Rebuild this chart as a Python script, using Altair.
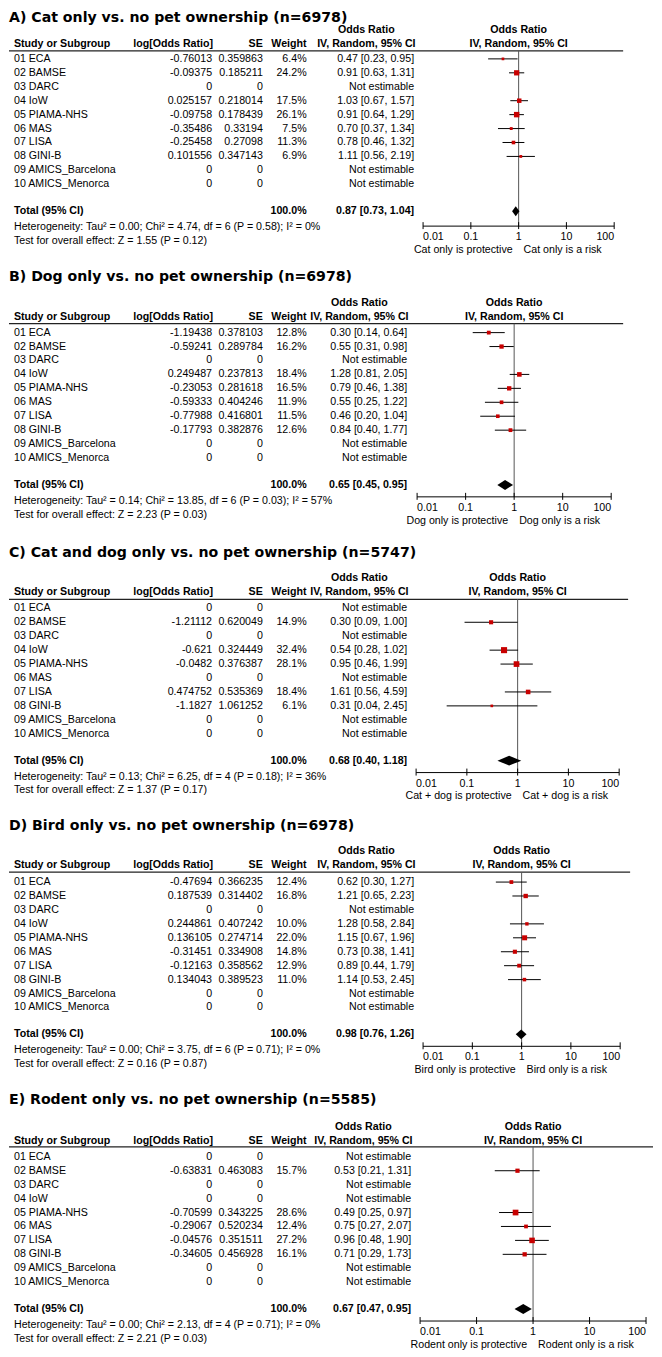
import altair as alt
import pandas as pd

SANS = "Liberation Sans"
TFONT = "DejaVu Sans"
FS = 10.7
RED = "#c80000"

studies = ["01 ECA", "02 BAMSE", "03 DARC", "04 IoW", "05 PIAMA-NHS", "06 MAS",
           "07 LISA", "08 GINI-B", "09 AMICS_Barcelona", "10 AMICS_Menorca"]
ticks = [0.01, 0.1, 1, 10, 100]
tick_labels = ["0.01", "0.1", "1", "10", "100"]

# ---------- A ----------
a_title = "A) Cat only vs. no pet ownership (n=6978)"
a_lor = [-0.76013, -0.09375, 0, 0.025157, -0.09758, -0.35486, -0.25458, 0.101556, 0, 0]
a_se = [0.359863, 0.185211, 0, 0.218014, 0.178439, 0.33194, 0.27098, 0.347143, 0, 0]
a_w = [6.4, 24.2, None, 17.5, 26.1, 7.5, 11.3, 6.9, None, None]
a_or = [0.47, 0.91, None, 1.03, 0.91, 0.70, 0.78, 1.11, None, None]
a_lo = [0.23, 0.63, None, 0.67, 0.64, 0.37, 0.46, 0.56, None, None]
a_hi = [0.95, 1.31, None, 1.57, 1.29, 1.34, 1.32, 2.19, None, None]
a_tot = [0.87, 0.73, 1.04]
a_het = [0.00, 4.74, 6, 0.58, 0]
a_z = [1.55, 0.12]
a_lab = ["Cat only is protective", "Cat only is a risk"]

# ---------- B ----------
b_title = "B) Dog only vs. no pet ownership (n=6978)"
b_lor = [-1.19438, -0.59241, 0, 0.249487, -0.23053, -0.59333, -0.77988, -0.17793, 0, 0]
b_se = [0.378103, 0.289784, 0, 0.237813, 0.281618, 0.404246, 0.416801, 0.382876, 0, 0]
b_w = [12.8, 16.2, None, 18.4, 16.5, 11.9, 11.5, 12.6, None, None]
b_or = [0.30, 0.55, None, 1.28, 0.79, 0.55, 0.46, 0.84, None, None]
b_lo = [0.14, 0.31, None, 0.81, 0.46, 0.25, 0.20, 0.40, None, None]
b_hi = [0.64, 0.98, None, 2.05, 1.38, 1.22, 1.04, 1.77, None, None]
b_tot = [0.65, 0.45, 0.95]
b_het = [0.14, 13.85, 6, 0.03, 57]
b_z = [2.23, 0.03]
b_lab = ["Dog only is protective", "Dog only is a risk"]

# ---------- C ----------
c_title = "C) Cat and dog only vs. no pet ownership (n=5747)"
c_lor = [0, -1.21112, 0, -0.621, -0.0482, 0, 0.474752, -1.1827, 0, 0]
c_se = [0, 0.620049, 0, 0.324449, 0.376387, 0, 0.535369, 1.061252, 0, 0]
c_w = [None, 14.9, None, 32.4, 28.1, None, 18.4, 6.1, None, None]
c_or = [None, 0.30, None, 0.54, 0.95, None, 1.61, 0.31, None, None]
c_lo = [None, 0.09, None, 0.28, 0.46, None, 0.56, 0.04, None, None]
c_hi = [None, 1.00, None, 1.02, 1.99, None, 4.59, 2.45, None, None]
c_tot = [0.68, 0.40, 1.18]
c_het = [0.13, 6.25, 4, 0.18, 36]
c_z = [1.37, 0.17]
c_lab = ["Cat + dog is protective", "Cat + dog is a risk"]

# ---------- D ----------
d_title = "D) Bird only vs. no pet ownership (n=6978)"
d_lor = [-0.47694, 0.187539, 0, 0.244861, 0.136105, -0.31451, -0.12163, 0.134043, 0, 0]
d_se = [0.366235, 0.314402, 0, 0.407242, 0.274714, 0.334908, 0.358562, 0.389523, 0, 0]
d_w = [12.4, 16.8, None, 10.0, 22.0, 14.8, 12.9, 11.0, None, None]
d_or = [0.62, 1.21, None, 1.28, 1.15, 0.73, 0.89, 1.14, None, None]
d_lo = [0.30, 0.65, None, 0.58, 0.67, 0.38, 0.44, 0.53, None, None]
d_hi = [1.27, 2.23, None, 2.84, 1.96, 1.41, 1.79, 2.45, None, None]
d_tot = [0.98, 0.76, 1.26]
d_het = [0.00, 3.75, 6, 0.71, 0]
d_z = [0.16, 0.87]
d_lab = ["Bird only is protective", "Bird only is a risk"]

# ---------- E ----------
e_title = "E) Rodent only vs. no pet ownership (n=5585)"
e_lor = [0, -0.63831, 0, 0, -0.70599, -0.29067, -0.04576, -0.34605, 0, 0]
e_se = [0, 0.463083, 0, 0, 0.343225, 0.520234, 0.351511, 0.456928, 0, 0]
e_w = [None, 15.7, None, None, 28.6, 12.4, 27.2, 16.1, None, None]
e_or = [None, 0.53, None, None, 0.49, 0.75, 0.96, 0.71, None, None]
e_lo = [None, 0.21, None, None, 0.25, 0.27, 0.48, 0.29, None, None]
e_hi = [None, 1.31, None, None, 0.97, 2.07, 1.90, 1.73, None, None]
e_tot = [0.67, 0.47, 0.95]
e_het = [0.00, 2.13, 4, 0.71, 0]
e_z = [2.21, 0.03]
e_lab = ["Rodent only is protective", "Rodent only is a risk"]

# layout (page pixels): top, height, offset of row 0, forest x-range, CI column right, header line right
layouts = [
    dict(top=8, h=260, r0=48, xa=424, xb=616, ci=415, lr=625, hdr=(-29, -15, -8), ax=168),
    dict(top=268, h=277, r0=63, xa=418, xb=613, ci=408, lr=625, hdr=(-30, -16, -9), ax=165),
    dict(top=545, h=275, r0=63, xa=417, xb=621, ci=408, lr=630, hdr=(-30, -16, -9), ax=165),
    dict(top=820, h=275, r0=63, xa=424, xb=622, ci=415, lr=632, hdr=(-31, -17, -10), ax=165),
    dict(top=1095, h=254, r0=64, xa=421, xb=648, ci=412, lr=655, hdr=(-30, -16, -10), ax=165),
]

panels_data = [
    (a_title, a_lor, a_se, a_w, a_or, a_lo, a_hi, a_tot, a_het, a_z, a_lab),
    (b_title, b_lor, b_se, b_w, b_or, b_lo, b_hi, b_tot, b_het, b_z, b_lab),
    (c_title, c_lor, c_se, c_w, c_or, c_lo, c_hi, c_tot, c_het, c_z, c_lab),
    (d_title, d_lor, d_se, d_w, d_or, d_lo, d_hi, d_tot, d_het, d_z, d_lab),
    (e_title, e_lor, e_se, e_w, e_or, e_lo, e_hi, e_tot, e_het, e_z, e_lab),
]

COL_LOR = 212
COL_SE = 263
COL_W = 307
COL_NAME = 13


def make_panel(pdata, L):
    title, lor, se, w, orr, lo, hi, tot, het, z, lab = pdata
    r0 = L["r0"]
    ysc = alt.Scale(domain=[0, 9], range=[r0, r0 + 126], zero=False, nice=False)
    xsc = alt.Scale(type="log", domain=[0.01, 100], range=[L["xa"] - 8, L["xb"] - 8])
    R = lambda px: px / 14.0
    h1, h2, hl = (R(v) for v in L["hdr"])
    ax = R(L["ax"])
    tot_row = R(153)

    def Y(field="row"):
        return alt.Y(f"{field}:Q", scale=ysc, axis=None)

    def X(field="or"):
        return alt.X(f"{field}:Q", scale=xsc, axis=None)

    def txt(df, x, align="left", bold=False, size=FS, font=SANS, field="text"):
        return alt.Chart(df).mark_text(
            align=align, baseline="middle", fontSize=size, font=font,
            fontWeight="bold" if bold else "normal", color="black"
        ).encode(x=alt.value(x - 8), y=Y(), text=alt.Text(f"{field}:N"))

    def one(row, text):
        return pd.DataFrame({"row": [row], "text": [text]})

    tbl = pd.DataFrame({
        "row": list(range(10)),
        "name": studies,
        "lor": [str(v) for v in lor],
        "se": [str(v) for v in se],
        "w": [f"{v:.1f}%" if v is not None else "" for v in w],
        "ci": [f"{o:.2f} [{l:.2f}, {h:.2f}]" if o is not None else "Not estimable"
               for o, l, h in zip(orr, lo, hi)],
    })
    forest = pd.DataFrame({
        "row": [i for i in range(10) if orr[i] is not None],
        "or": [v for v in orr if v is not None],
        "lo": [v for v in lo if v is not None],
        "hi": [v for v in hi if v is not None],
        "w": [v for v in w if v is not None],
    })
    ci_x = L["ci"]
    hdr_c = ci_x - 48

    layers = []
    # title
    layers.append(txt(one(R(7 - r0), title), 8, bold=True, size=14.2, font=TFONT))
    # headers
    layers.append(txt(one(h1, "Odds Ratio"), hdr_c, align="center", bold=True))
    layers.append(txt(one(h2, "IV, Random, 95% CI"), hdr_c, align="center", bold=True))
    layers.append(txt(one(h2, "Study or Subgroup"), COL_NAME, bold=True))
    layers.append(txt(one(h2, "log[Odds Ratio]"), COL_LOR + 1, align="right", bold=True))
    layers.append(txt(one(h2, "SE"), COL_SE, align="right", bold=True))
    layers.append(txt(one(h2, "Weight"), COL_W, align="right", bold=True))
    fh = pd.DataFrame({"row": [h1, h2], "or": [1, 1], "text": ["Odds Ratio", "IV, Random, 95% CI"]})
    layers.append(alt.Chart(fh).mark_text(align="center", baseline="middle", fontSize=FS,
                                          font=SANS, fontWeight="bold", color="black")
                  .encode(x=X(), y=Y(), text="text:N"))
    # header rule
    layers.append(alt.Chart(pd.DataFrame({"row": [hl]})).mark_rule(color="#222", strokeWidth=1.2)
                  .encode(x=alt.value(0), x2=alt.value(L["lr"] - 8), y=Y()))
    # table body
    layers.append(txt(tbl, COL_NAME, field="name"))
    layers.append(txt(tbl, COL_LOR, align="right", field="lor"))
    layers.append(txt(tbl, COL_SE, align="right", field="se"))
    layers.append(txt(tbl, COL_W, align="right", field="w"))
    layers.append(txt(tbl, ci_x, align="right", field="ci"))
    # total
    layers.append(txt(one(tot_row, "Total (95% CI)"), COL_NAME, bold=True))
    layers.append(txt(one(tot_row, "100.0%"), COL_W, align="right", bold=True))
    layers.append(txt(one(tot_row, f"{tot[0]:.2f} [{tot[1]:.2f}, {tot[2]:.2f}]"), ci_x, align="right", bold=True))
    layers.append(txt(one(R(169), f"Heterogeneity: Tau² = {het[0]:.2f}; Chi² = {het[1]:.2f}, df = {het[2]} (P = {het[3]:.2f}); I² = {het[4]}%"), COL_NAME))
    layers.append(txt(one(R(183), f"Test for overall effect: Z = {z[0]:.2f} (P = {z[1]:.2f})"), COL_NAME))

    # vertical line at OR = 1
    layers.append(alt.Chart(pd.DataFrame({"or": [1], "row": [hl], "row2": [ax]}))
                  .mark_rule(color="#555", strokeWidth=1)
                  .encode(x=X(), y=Y(), y2="row2:Q"))
    # CI whiskers
    layers.append(alt.Chart(forest).mark_rule(color="black", strokeWidth=1)
                  .encode(x=X("lo"), x2="hi:Q", y=Y()))
    # squares
    layers.append(alt.Chart(forest).mark_square(color=RED, opacity=1)
                  .encode(x=X(), y=Y(),
                          size=alt.Size("w:Q", scale=alt.Scale(domain=[0, 100], range=[0, 115]), legend=None)))
    # diamond
    dh = R(5)
    dia = pd.DataFrame({"or": [tot[1], tot[0], tot[2]],
                        "row": [tot_row, tot_row - dh, tot_row],
                        "row2": [tot_row, tot_row + dh, tot_row]})
    layers.append(alt.Chart(dia).mark_area(color="black", opacity=1)
                  .encode(x=X(), y=Y(), y2="row2:Q"))
    # axis
    layers.append(alt.Chart(pd.DataFrame({"or": [0.01], "or2": [100], "row": [ax]}))
                  .mark_rule(color="black", strokeWidth=1)
                  .encode(x=X(), x2="or2:Q", y=Y()))
    tk = pd.DataFrame({"or": ticks, "row": [ax - R(4)] * 5, "row2": [ax + R(3)] * 5,
                       "lrow": [ax + R(11)] * 5, "text": tick_labels})
    layers.append(alt.Chart(tk).mark_rule(color="black", strokeWidth=1)
                  .encode(x=X(), y=Y(), y2="row2:Q"))
    for sub, al in ((tk.iloc[[0]], "left"), (tk.iloc[1:4], "center"), (tk.iloc[[4]], "right")):
        layers.append(alt.Chart(sub).mark_text(align=al, baseline="middle", fontSize=FS, font=SANS, color="black")
                      .encode(x=X(), y=Y("lrow"), text="text:N"))
    sl = pd.DataFrame({"or": [1], "row": [ax + R(24)], "t1": [lab[0]], "t2": [lab[1]]})
    layers.append(alt.Chart(sl).mark_text(align="right", baseline="middle", fontSize=FS, font=SANS, color="black", dx=-6)
                  .encode(x=X(), y=Y(), text="t1:N"))
    layers.append(alt.Chart(sl).mark_text(align="left", baseline="middle", fontSize=FS, font=SANS, color="black", dx=5)
                  .encode(x=X(), y=Y(), text="t2:N"))

    return alt.layer(*layers).properties(width=646, height=L["h"])


charts = [make_panel(p, L) for p, L in zip(panels_data, layouts)]

chart = (alt.vconcat(*charts, spacing=0, bounds="flush")
         .resolve_scale(x="independent", y="independent", size="independent")
         .properties(padding=0, background="white")
         .configure_view(stroke=None))

chart.save("out.html", embed_options={"renderer": "svg", "actions": False})
